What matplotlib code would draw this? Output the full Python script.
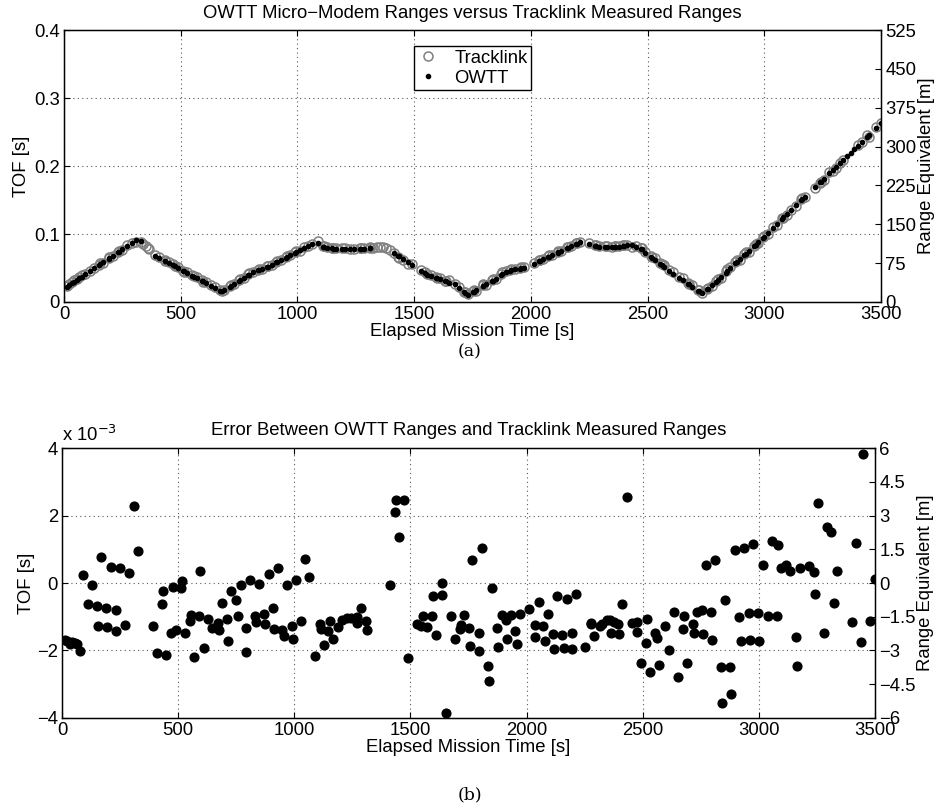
import matplotlib
matplotlib.use("Agg")
import matplotlib.pyplot as plt
from matplotlib.ticker import FuncFormatter, MultipleLocator
import numpy as np

plt.rcParams['font.family'] = ['Liberation Sans', 'DejaVu Sans']
plt.rcParams['axes.unicode_minus'] = True

# sample times [s] of paired OWTT / Tracklink ranges
t_pair = [11, 22, 33, 44, 55, 66, 76, 91, 110, 130, 150, 156, 169, 191, 194, 210, 231, 234, 250, 271,
          290, 310, 329, 390, 409, 431, 434, 449, 467, 476, 490, 511, 516, 529, 550, 556, 569, 591, 594, 609,
          630, 647, 670, 676, 687, 710, 714, 729, 751, 756, 770, 790, 794, 809, 830, 834, 849, 869, 874, 889,
          909, 914, 929, 949, 954, 969, 990, 993, 1009, 1029, 1047, 1063, 1087, 1109, 1113, 1127, 1147, 1153, 1167, 1189,
          1204, 1226, 1244, 1270, 1271, 1287, 1310, 1311, 1413, 1433, 1436, 1452, 1472, 1490, 1530, 1545, 1556, 1571, 1592, 1597,
          1611, 1634, 1637, 1651, 1674, 1693, 1714, 1717, 1731, 1754, 1757, 1767, 1793, 1797, 1807, 1833, 1837, 1852, 1872, 1877,
          1892, 1912, 1917, 1932, 1952, 1958, 1972, 2012, 2035, 2038, 2052, 2072, 2078, 2092, 2115, 2118, 2130, 2154, 2159, 2173,
          2194, 2197, 2211, 2251, 2276, 2279, 2290, 2316, 2326, 2347, 2359, 2362, 2376, 2393, 2399, 2412, 2433, 2452, 2474, 2476,
          2491, 2514, 2519, 2531, 2554, 2560, 2571, 2594, 2611, 2634, 2651, 2674, 2677, 2691, 2717, 2720, 2734, 2756, 2758, 2774,
          2792, 2800, 2813, 2835, 2842, 2855, 2875, 2882, 2895, 2915, 2922, 2935, 2957, 2963, 2975, 2996, 3001, 3017, 3039, 3056,
          3077, 3082, 3096, 3116, 3136, 3159, 3162, 3175, 3216, 3239, 3241, 3256, 3279, 3294, 3309, 3325, 3338, 3401, 3418, 3440,
          3448, 3477, 3499]

# OWTT time of flight [s]
owtt_tof = [0.0225, 0.0250, 0.0276, 0.0301, 0.0326, 0.0351, 0.0374, 0.0408, 0.0452, 0.0498, 0.0544, 0.0557, 0.0587, 0.0637, 0.0644, 0.0681, 0.0729, 0.0736, 0.0773, 0.0821,
            0.0864, 0.0910, 0.0890, 0.0683, 0.0648, 0.0607, 0.0601, 0.0573, 0.0540, 0.0523, 0.0497, 0.0458, 0.0449, 0.0425, 0.0386, 0.0375, 0.0351, 0.0310, 0.0304, 0.0276,
            0.0237, 0.0200, 0.0160, 0.0155, 0.0175, 0.0224, 0.0232, 0.0265, 0.0312, 0.0322, 0.0352, 0.0395, 0.0403, 0.0435, 0.0468, 0.0470, 0.0478, 0.0513, 0.0522, 0.0548,
            0.0583, 0.0592, 0.0618, 0.0653, 0.0662, 0.0688, 0.0725, 0.0730, 0.0758, 0.0793, 0.0824, 0.0852, 0.0875, 0.0810, 0.0805, 0.0795, 0.0787, 0.0785, 0.0781, 0.0778,
            0.0776, 0.0775, 0.0775, 0.0777, 0.0777, 0.0780, 0.0790, 0.0790, 0.0727, 0.0679, 0.0672, 0.0633, 0.0585, 0.0541, 0.0455, 0.0422, 0.0402, 0.0382, 0.0357, 0.0351,
            0.0334, 0.0306, 0.0302, 0.0285, 0.0258, 0.0200, 0.0140, 0.0132, 0.0106, 0.0145, 0.0152, 0.0174, 0.0232, 0.0241, 0.0263, 0.0302, 0.0310, 0.0340, 0.0400, 0.0415,
            0.0448, 0.0463, 0.0467, 0.0478, 0.0492, 0.0496, 0.0504, 0.0563, 0.0599, 0.0604, 0.0626, 0.0658, 0.0667, 0.0689, 0.0726, 0.0730, 0.0749, 0.0787, 0.0795, 0.0817,
            0.0850, 0.0855, 0.0877, 0.0855, 0.0825, 0.0823, 0.0815, 0.0808, 0.0806, 0.0804, 0.0808, 0.0810, 0.0815, 0.0825, 0.0830, 0.0836, 0.0835, 0.0815, 0.0785, 0.0782,
            0.0716, 0.0659, 0.0646, 0.0616, 0.0559, 0.0544, 0.0517, 0.0460, 0.0417, 0.0360, 0.0320, 0.0265, 0.0258, 0.0225, 0.0163, 0.0156, 0.0128, 0.0190, 0.0196, 0.0245,
            0.0301, 0.0325, 0.0365, 0.0433, 0.0451, 0.0506, 0.0568, 0.0589, 0.0629, 0.0691, 0.0713, 0.0753, 0.0821, 0.0839, 0.0876, 0.0940, 0.0955, 0.1010, 0.1089, 0.1150,
            0.1226, 0.1245, 0.1291, 0.1357, 0.1422, 0.1498, 0.1508, 0.1550, 0.1685, 0.1760, 0.1767, 0.1816, 0.1891, 0.1940, 0.1990, 0.2042, 0.2085, 0.2300, 0.2358, 0.2433,
            0.2460, 0.2559, 0.2634]

# OWTT minus Tracklink [1e-3 s]
err_ms = [-1.69, -1.73, -1.81, -1.75, -1.78, -1.80, -2.02, 0.24, -0.62, -0.05, -0.68, -1.28, 0.76, -0.75, -1.30, 0.48, -0.81, -1.42, 0.43, -1.25,
          0.31, 2.29, 0.94, -1.28, -2.06, -0.61, -0.24, -2.13, -1.48, -0.11, -1.40, -0.15, 0.06, -1.48, -1.12, -0.96, -2.19, -0.99, 0.36, -1.93,
          -1.07, -1.34, -1.18, -1.38, -0.59, -1.07, -1.71, -0.25, -0.51, -0.99, -0.06, -1.32, -2.05, 0.09, -0.99, -1.15, -0.03, -0.91, -1.20, 0.26,
          -0.73, -1.35, 0.45, -1.40, -1.56, -0.05, -1.26, -1.67, 0.08, -1.14, 0.70, 0.17, -2.17, -1.22, -1.36, -1.83, -1.42, -1.14, -1.67, -1.30,
          -1.10, -1.05, -1.05, -1.01, -1.18, -0.75, -1.13, -1.38, -0.07, 2.09, 2.46, 1.36, 2.47, -2.22, -1.22, -1.26, -0.98, -1.30, -0.98, -0.39,
          -1.53, -0.35, 0.01, -3.84, -0.98, -1.67, -1.35, -1.25, -0.95, -1.32, -1.87, 0.68, -1.49, -2.01, 1.05, -2.46, -2.90, -0.14, -1.34, -1.90,
          -0.95, -1.10, -1.65, -0.95, -1.43, -1.82, -0.93, -0.77, -1.23, -1.61, -0.55, -1.28, -1.71, -0.92, -1.51, -1.97, -0.39, -1.55, -1.93, -0.47,
          -1.47, -1.97, -0.33, -1.91, -1.22, -1.19, -1.58, -1.26, -1.20, -1.10, -1.10, -1.48, -1.15, -1.21, -1.50, -0.61, 2.56, -1.18, -1.45, -1.16,
          -2.38, -1.79, -1.08, -2.63, -1.48, -1.63, -2.42, -1.28, -1.99, -0.85, -2.78, -1.36, -0.98, -2.38, -1.20, -1.47, -0.87, -0.81, -1.50, 0.54,
          -0.87, -1.69, 0.67, -2.49, -3.55, -0.51, -2.49, -3.28, 0.97, -1.00, -1.73, 1.04, -0.90, -1.69, 1.15, -0.90, -1.73, 0.52, -0.97, 1.25,
          -0.98, 1.14, 0.45, 0.54, 0.35, -1.60, -2.46, 0.43, 0.49, 0.33, -0.32, 2.36, -1.48, 1.67, 1.50, -0.59, 0.37, -1.16, 1.18, -1.75,
          3.82, -1.12, 0.12]

# Tracklink fixes with no matching OWTT ping
t_trk_only = [340, 350, 358, 365, 1325, 1340, 1352, 1365, 1380, 1395]
tof_trk_only = [0.0855, 0.0825, 0.0800, 0.0785, 0.0800, 0.0810, 0.0815, 0.0812, 0.0795, 0.0768]

# OWTT pings with no matching Tracklink fix
t_owtt_only = [3355, 3370, 3385]
tof_owtt_only = [0.2140, 0.2190, 0.2245]

SOUND_SPEED = 1500.0  # m/s, used for range equivalent on the error plot

t_pair = np.array(t_pair, dtype=float)
owtt_tof = np.array(owtt_tof)
err = np.array(err_ms) * 1e-3
trk_tof = owtt_tof - err

t_trk = np.concatenate([t_pair, t_trk_only])
tof_trk = np.concatenate([trk_tof, tof_trk_only])
t_owtt = np.concatenate([t_pair, t_owtt_only])
tof_owtt = np.concatenate([owtt_tof, tof_owtt_only])

FS = 13.3
grid_kw = dict(color='0.35', linestyle=(0, (1, 3)), linewidth=0.8)

fig = plt.figure(figsize=(9.40, 8.09), dpi=100)

def style_axes(ax):
    ax.tick_params(direction='in', length=4, width=0.8, labelsize=FS, top=True, pad=3)
    for s in ax.spines.values():
        s.set_linewidth(1.0)
    ax.grid(True, **grid_kw)

# ---- (a) ranges ----
ax1 = fig.add_axes([0.0681, 0.6267, 0.8691, 0.3362])
ax1.plot(t_trk, tof_trk, 'o', mfc='none', mec='0.5', ms=6.5, mew=1.1, label='Tracklink')
ax1.plot(t_owtt, tof_owtt, '.', color='k', ms=6, label='OWTT')
ax1.set_xlim(0, 3500)
ax1.set_ylim(0, 0.4)
ax1.xaxis.set_major_locator(MultipleLocator(500))
ax1.yaxis.set_major_locator(MultipleLocator(0.1))
ax1.yaxis.set_major_formatter(FuncFormatter(lambda v, p: '0' if abs(v) < 1e-9 else '%g' % v))
style_axes(ax1)
ax1.set_xlabel('Elapsed Mission Time [s]', fontsize=FS, labelpad=0)
ax1.set_ylabel('TOF [s]', fontsize=FS, labelpad=3)
ax1.set_title('OWTT Micro\u2212Modem Ranges versus Tracklink Measured Ranges', fontsize=FS, pad=8.5)
leg = ax1.legend(loc='upper center', bbox_to_anchor=(0.5, 0.975), fontsize=FS, fancybox=False,
                 edgecolor='k', framealpha=1, handlelength=1.2, handletextpad=0.8,
                 borderpad=0.2, labelspacing=0.15, markerscale=1.0)
leg.get_frame().set_linewidth(1.0)

ax1r = ax1.twinx()
ax1r.set_ylim(0, 525)
ax1r.yaxis.set_major_locator(MultipleLocator(75))
ax1r.tick_params(direction='in', length=4, width=0.8, labelsize=FS, pad=3)
ax1r.set_ylabel('Range Equivalent [m]', fontsize=FS, labelpad=1)

# ---- (b) error ----
ax2 = fig.add_axes([0.0660, 0.1125, 0.8649, 0.3337])
ax2.plot(t_pair, err, 'o', color='k', ms=6.3)
ax2.set_xlim(0, 3500)
ax2.set_ylim(-4e-3, 4e-3)
ax2.xaxis.set_major_locator(MultipleLocator(500))
ax2.yaxis.set_major_locator(MultipleLocator(2e-3))
ax2.yaxis.set_major_formatter(FuncFormatter(lambda v, p: ('%d' % round(v * 1e3)).replace('-', '\u2212')))
style_axes(ax2)
ax2.set_xlabel('Elapsed Mission Time [s]', fontsize=FS, labelpad=0)
ax2.set_ylabel('TOF [s]', fontsize=FS, labelpad=1)
ax2.set_title('Error Between OWTT Ranges and Tracklink Measured Ranges', fontsize=FS, pad=9.5)
ax2.text(0.0, 1.012, 'x 10$^{\u22123}$', transform=ax2.transAxes, fontsize=FS, ha='left', va='bottom')

ax2r = ax2.twinx()
ax2r.set_ylim(-4e-3 * SOUND_SPEED, 4e-3 * SOUND_SPEED)
ax2r.yaxis.set_major_locator(MultipleLocator(1.5))
ax2r.yaxis.set_major_formatter(FuncFormatter(lambda v, p: ('%g' % v).replace('-', '\u2212')))
ax2r.tick_params(direction='in', length=4, width=0.8, labelsize=FS, pad=3)
ax2r.set_ylabel('Range Equivalent [m]', fontsize=FS, labelpad=1)

# sub-figure captions
fig.text(0.5, 1 - 352 / 809, '(a)', ha='center', va='center', fontsize=12.5, family='DejaVu Serif')
fig.text(0.5, 1 - 795 / 809, '(b)', ha='center', va='center', fontsize=12.5, family='DejaVu Serif')

fig.savefig('out.png', dpi=100)
